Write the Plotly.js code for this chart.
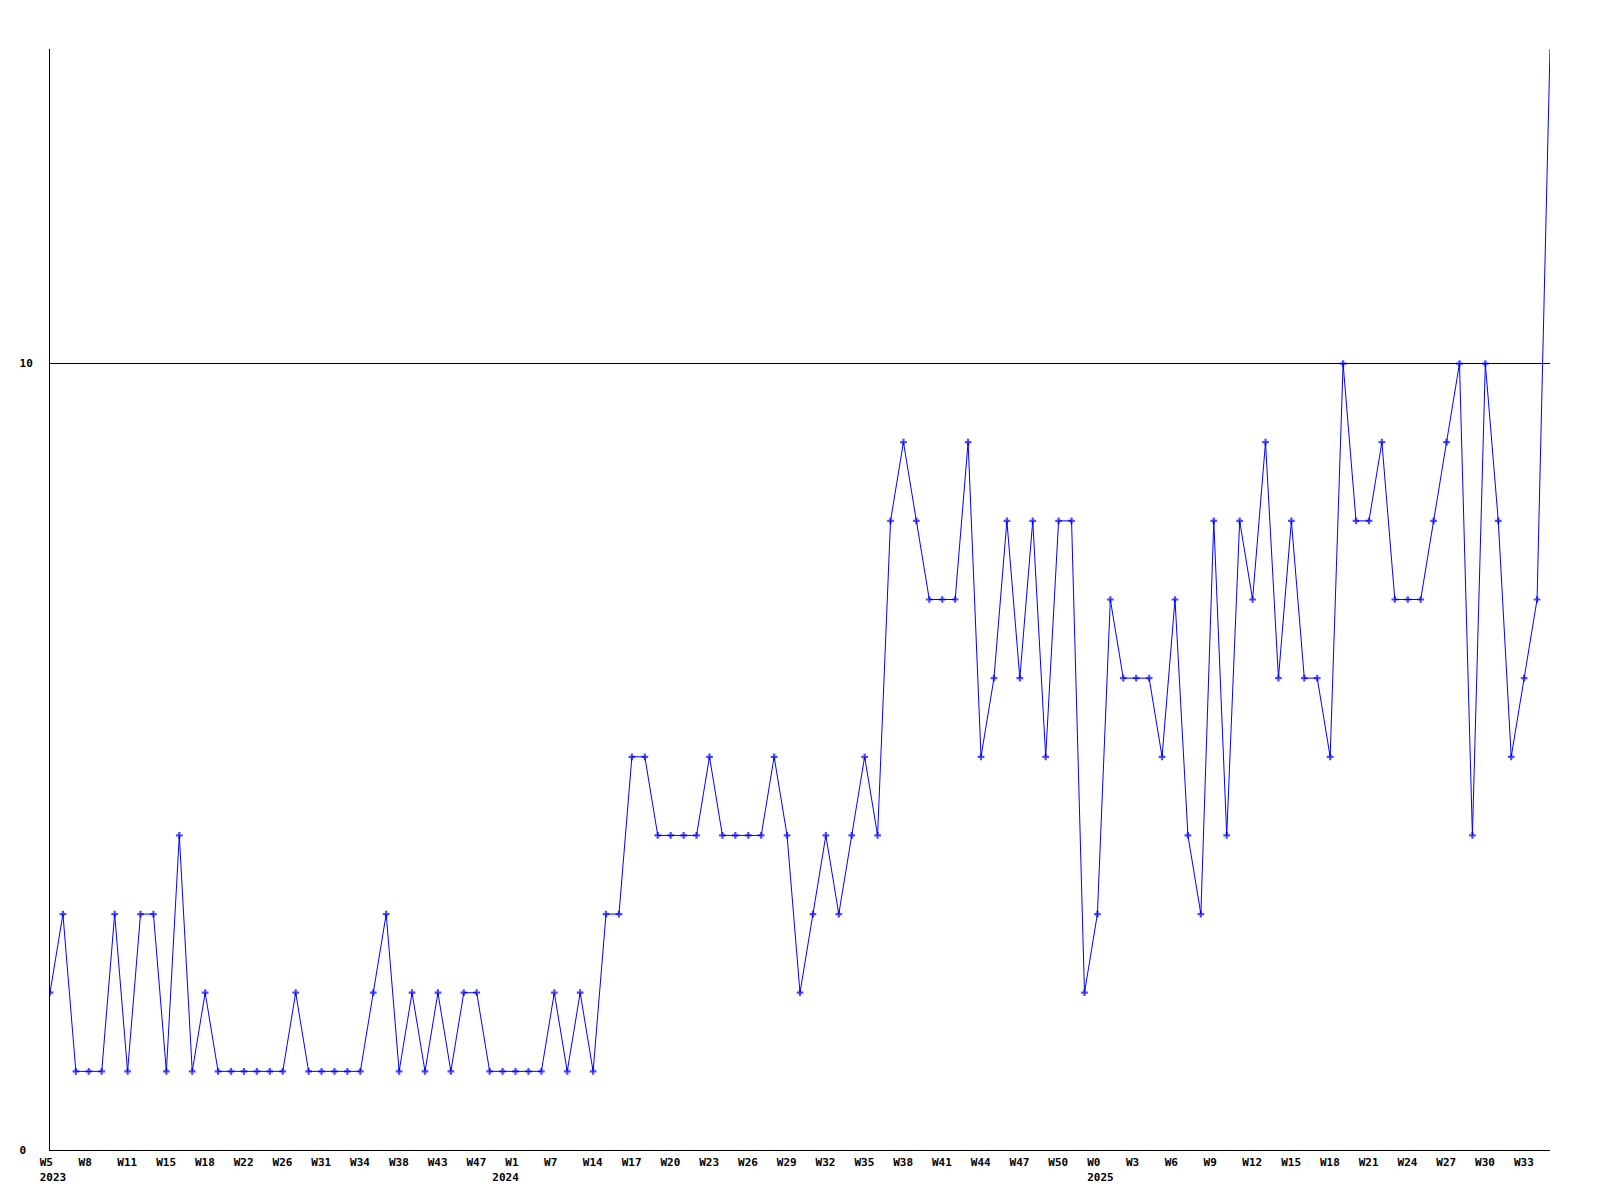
<!DOCTYPE html>
<html>
<head>
<meta charset="utf-8">
<script src="https://cdn.plot.ly/plotly-3.0.1.min.js"></script>
<style>
  html, body { margin: 0; padding: 0; background: #ffffff; }
  #chart { width: 1600px; height: 1200px; }
</style>
</head>
<body>
<div id="chart"></div>
<script>
// Weekly values, one per point (index 0 = W5 2023)
const values = [
  2, 3, 1, 1, 1, 3, 1, 3, 3, 1,
  4, 1, 2, 1, 1, 1, 1, 1, 1, 2,
  1, 1, 1, 1, 1, 2, 3, 1, 2, 1,
  2, 1, 2, 2, 1, 1, 1, 1, 1, 2,
  1, 2, 1, 3, 3, 5, 5, 4, 4, 4,
  4, 5, 4, 4, 4, 4, 5, 4, 2, 3,
  4, 3, 4, 5, 4, 8, 9, 8, 7, 7,
  7, 9, 5, 6, 8, 6, 8, 5, 8, 8,
  2, 3, 7, 6, 6, 6, 5, 7, 4, 3,
  8, 4, 8, 7, 9, 6, 8, 6, 6, 5,
  10, 8, 8, 9, 7, 7, 7, 8, 9, 10,
  4, 10, 8, 5, 6, 7, 14
];

// Week tick labels, one every 3 points
const tickWeeks = [
  "W5", "W8", "W11", "W15", "W18", "W22", "W26", "W31", "W34", "W38",
  "W43", "W47", "W1", "W7", "W14", "W17", "W20", "W23", "W26", "W29",
  "W32", "W35", "W38", "W41", "W44", "W47", "W50", "W0", "W3", "W6",
  "W9", "W12", "W15", "W18", "W21", "W24", "W27", "W30", "W33"
];
const tickStep = 3;
// Year labels and the point index where each year starts
const yearLabels = ["2023", "2024", "2025"];
const yearStartIdx = [0, 35, 81];

const yTickVals = [0, 10];
const yTickText = ["0", "10"];
const yMax = 14;

const NB = "\u00a0";
function pad(s, n) { while (s.length < n) s += NB; return s; }

const xIdx = values.map((_, i) => i);

// Build tick arrays: week label on first line, year (if any) on second line
const tickMap = new Map();
tickWeeks.forEach((w, i) => tickMap.set(i * tickStep, { w: w, y: null }));
yearStartIdx.forEach((p, i) => {
  if (tickMap.has(p)) tickMap.get(p).y = yearLabels[i];
  else tickMap.set(p, { w: "", y: yearLabels[i] });
});
const tickVals = Array.from(tickMap.keys()).sort((a, b) => a - b);
const tickText = tickVals.map(v => {
  const t = tickMap.get(v);
  return t.y ? pad(t.w, 4) + "<br>" + t.y : pad(t.w, 4);
});
const yText = yTickText.map(t => pad(t, 2));

const font = { family: "DejaVu Sans Mono, Liberation Mono, monospace", size: 11, color: "#000000", weight: "bold" };

const trace = {
  x: xIdx,
  y: values,
  type: "scatter",
  mode: "lines+markers",
  line: { color: "#0000ff", width: 1 },
  marker: {
    symbol: "cross",
    size: values.map(v => (v >= yMax ? 0 : 5.6)),
    color: "#0000ff",
    line: { width: 0 }
  },
  hoverinfo: "skip"
};

const layout = {
  width: 1600,
  height: 1200,
  margin: { l: 50, r: 50, t: 49, b: 50, pad: 0 },
  paper_bgcolor: "#ffffff",
  plot_bgcolor: "#ffffff",
  showlegend: false,
  font: font,
  xaxis: {
    range: [0, values.length - 1],
    tickmode: "array",
    tickvals: tickVals,
    ticktext: tickText,
    ticks: "",
    showgrid: false,
    zeroline: false,
    showline: true,
    linecolor: "#000000",
    linewidth: 1,
    tickangle: 0,
    ticklabelshift: 3,
    ticklabelstandoff: 2,
    tickfont: font
  },
  yaxis: {
    range: [0, yMax],
    tickmode: "array",
    tickvals: yTickVals,
    ticktext: yText,
    ticks: "",
    showgrid: true,
    gridcolor: "#000000",
    gridwidth: 1,
    zeroline: false,
    showline: true,
    linecolor: "#000000",
    linewidth: 1,
    ticklabelstandoff: 14,
    tickfont: font
  },
  hovermode: false
};

Plotly.newPlot("chart", [trace], layout, { displayModeBar: false, staticPlot: true });
</script>
</body>
</html>
